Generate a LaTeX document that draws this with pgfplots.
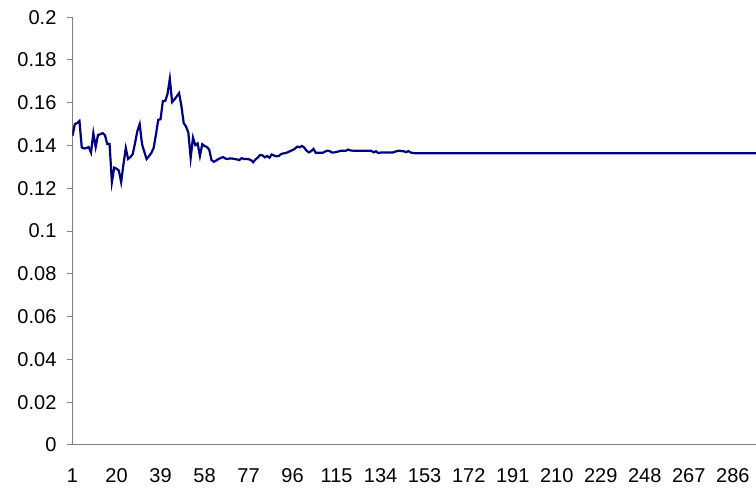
\documentclass[border=0pt]{standalone}
\usepackage{fontspec}
\setmainfont{Liberation Sans}
\usepackage{pgfplots}
\pgfplotsset{compat=1.18}
\definecolor{axgray}{RGB}{128,128,128}
\definecolor{navyline}{RGB}{0,0,128}
\begin{document}
\begin{tikzpicture}[x=1pt,y=1pt]
\begin{axis}[
  at={(0,0)}, anchor=south west,
  scale only axis, width=341.75pt, height=213.9pt,
  xmin=1, xmax=296, ymin=0, ymax=0.2,
  axis lines*=left,
  axis line style={axgray, line width=0.5pt},
  xtick={1,20,39,58,77,96,115,134,153,172,191,210,229,248,267,286},
  ytick={0,0.02,0.04,0.06,0.08,0.1,0.12,0.14,0.16,0.18,0.2},
  yticklabels={0,0.02,0.04,0.06,0.08,0.1,0.12,0.14,0.16,0.18,0.2},
  xtick style={draw=none},
  ytick style={axgray, line width=0.5pt},
  tick align=outside,
  major tick length=2.75pt,
  /pgf/number format/assume math mode=true,
  ticklabel style={font=\fontsize{10}{12}\selectfont, inner sep=0pt},
  xticklabel style={anchor=north, yshift=-8.9pt},
  yticklabel style={anchor=east, xshift=-5.1pt},
  clip=true,
]
\addplot[navyline, line width=1.1pt, mark=none] coordinates {
(1,0.1445) (2,0.1500) (3,0.1505) (4,0.1515) (5,0.1391) (6,0.1386) (7,0.1388) (8,0.1393) (9,0.1367) (10,0.1458)
(11,0.1393) (12,0.1449) (13,0.1453) (14,0.1458) (15,0.1449) (16,0.1407) (17,0.1407) (18,0.1229) (19,0.1297) (20,0.1292)
(21,0.1283) (22,0.1229) (23,0.1313) (24,0.1388) (25,0.1337) (26,0.1346) (27,0.1360) (28,0.1412) (29,0.1468) (30,0.1500)
(31,0.1407) (32,0.1370) (33,0.1337) (34,0.1350) (35,0.1365) (36,0.1388) (37,0.1450) (38,0.1520) (39,0.1523) (40,0.1608)
(41,0.1608) (42,0.1640) (43,0.1712) (44,0.1603) (45,0.1615) (46,0.1630) (47,0.1645) (48,0.1585) (49,0.1505) (50,0.1489)
(51,0.1460) (52,0.1342) (53,0.1437) (54,0.1402) (55,0.1410) (56,0.1351) (57,0.1406) (58,0.1398) (59,0.1393) (60,0.1381)
(61,0.1332) (62,0.1324) (63,0.1330) (64,0.1337) (65,0.1342) (66,0.1346) (67,0.1339) (68,0.1337) (69,0.1340) (70,0.1339)
(71,0.1337) (72,0.1335) (73,0.1332) (74,0.1341) (75,0.1337) (76,0.1337) (77,0.1336) (78,0.1332) (79,0.1322) (80,0.1335)
(81,0.1344) (82,0.1356) (83,0.1354) (84,0.1345) (85,0.1351) (86,0.1343) (87,0.1358) (88,0.1353) (89,0.1350) (90,0.1351)
(91,0.1360) (92,0.1363) (93,0.1365) (94,0.1369) (95,0.1374) (96,0.1379) (97,0.1385) (98,0.1395) (99,0.1392) (100,0.1398)
(101,0.1391) (102,0.1376) (103,0.1368) (104,0.1374) (105,0.1384) (106,0.1366) (107,0.1366) (108,0.1366) (109,0.1366) (110,0.1372)
(111,0.1376) (112,0.1374) (113,0.1367) (114,0.1368) (115,0.1370) (116,0.1373) (117,0.1376) (118,0.1376) (119,0.1376) (120,0.1381)
(121,0.1377) (122,0.1376) (123,0.1376) (124,0.1376) (125,0.1376) (126,0.1376) (127,0.1376) (128,0.1376) (129,0.1376) (130,0.1375)
(131,0.1368) (132,0.1373) (133,0.1365) (134,0.1367) (135,0.1367) (136,0.1367) (137,0.1367) (138,0.1367) (139,0.1367) (140,0.1370)
(141,0.1374) (142,0.1376) (143,0.1374) (144,0.1373) (145,0.1369) (146,0.1374) (147,0.1367) (148,0.1365) (149,0.1364) (150,0.1364)
(296,0.1364)
};
\end{axis}
\pgfresetboundingbox
\useasboundingbox (-36.25,-22.5) rectangle (341.75,222.5);
\end{tikzpicture}
\end{document}
